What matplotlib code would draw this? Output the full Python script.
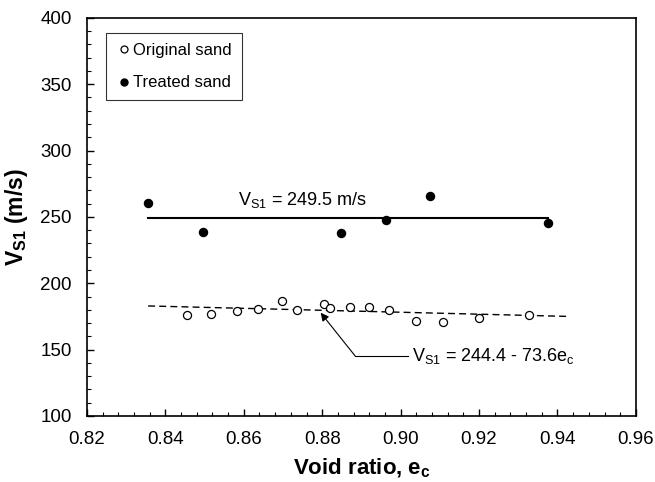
import matplotlib
matplotlib.use("Agg")
import matplotlib.pyplot as plt
from matplotlib.ticker import MultipleLocator

plt.rcParams['font.family'] = ['Liberation Sans', 'DejaVu Sans']
plt.rcParams['mathtext.fontset'] = 'custom'
plt.rcParams['mathtext.rm'] = 'Liberation Sans'
plt.rcParams['mathtext.it'] = 'Liberation Sans:italic'
plt.rcParams['mathtext.bf'] = 'Liberation Sans:bold'

# original sand
e_orig = [0.8454, 0.8517, 0.8583, 0.8635, 0.8698, 0.8735, 0.8804, 0.8821, 0.8870,
          0.8920, 0.8971, 0.9038, 0.9107, 0.9199, 0.9327]
vs_orig = [176.1, 177.1, 179.4, 180.9, 186.4, 179.7, 184.4, 181.2, 182.4,
           182.4, 179.8, 171.6, 171.1, 174.0, 176.3]
# treated sand
e_treat = [0.8356, 0.8497, 0.8847, 0.8963, 0.9076, 0.9376]
vs_treat = [260.3, 238.4, 237.9, 247.5, 265.8, 245.7]

# fitted lines
mean_vs = 249.5
mean_range = [0.8356, 0.9376]
fit_a, fit_b = 244.4, -73.6
fit_range = [0.8356, 0.9427]

# annotation anchor points
arrow_head = (0.8796, 177.8)
arrow_elbow = (0.8884, 145.2)
arrow_tail = (0.9020, 145.2)

fig = plt.figure(figsize=(6.55, 4.82), dpi=100)
ax = fig.add_axes([0.1328, 0.137, 0.838, 0.826])

ax.plot(e_orig, vs_orig, 'o', mfc='white', mec='black', mew=0.9, ms=5.8, label='Original sand', zorder=3)
ax.plot(e_treat, vs_treat, 'o', mfc='black', mec='black', ms=5.8, label='Treated sand', zorder=3)

ax.plot(mean_range, [mean_vs, mean_vs], color='black', lw=1.5)
ax.plot(fit_range, [fit_a + fit_b * x for x in fit_range], color='black', lw=1, ls=(0, (5, 3)))

ax.text(0.8585, 262.5, r'$\mathrm{V_{S1}}$ = 249.5 m/s', fontsize=13, va='center')

# elbow arrow to the fitted line
ax.plot([arrow_tail[0], arrow_elbow[0]], [arrow_tail[1], arrow_elbow[1]], color='black', lw=0.8)
ax.annotate('', xy=arrow_head, xytext=arrow_elbow,
            arrowprops=dict(arrowstyle='-|>', color='black', lw=0.8, shrinkA=0, shrinkB=0,
                            mutation_scale=12))
ax.text(0.9028, 145.2, r'$\mathrm{V_{S1}}$ = 244.4 - 73.6$\mathrm{e_c}$', fontsize=13, va='center')

ax.set_xlim(0.82, 0.96)
ax.set_ylim(100, 400)
ax.xaxis.set_major_locator(MultipleLocator(0.02))
ax.xaxis.set_minor_locator(MultipleLocator(0.004))
ax.yaxis.set_major_locator(MultipleLocator(50))
ax.yaxis.set_minor_locator(MultipleLocator(10))
ax.set_xticklabels([f'{v:.2f}' for v in ax.get_xticks()])
ax.tick_params(which='both', direction='in', top=False, right=False, labelsize=13.5, pad=11)
ax.tick_params(which='major', length=5, width=1)
ax.tick_params(which='minor', length=3, width=0.8)
for s in ax.spines.values():
    s.set_linewidth(1.2)

ax.set_xlabel(r'Void ratio, $\mathbf{e_c}$', fontsize=16, fontweight='bold', labelpad=6)
ax.set_ylabel(r'$\mathbf{V_{S1}}$ (m/s)', fontsize=16.5, fontweight='bold', labelpad=7)

leg = ax.legend(loc='upper left', fontsize=12, frameon=True, fancybox=False,
                handletextpad=0.05, handlelength=1.0, borderpad=0.6,
                labelspacing=1.05, borderaxespad=0, bbox_to_anchor=(0.0346, 0.962))
leg.get_frame().set_edgecolor('black')
leg.get_frame().set_linewidth(0.8)
for h in leg.legend_handles:
    h.set_markersize(5)

fig.savefig('out.png', dpi=100)
